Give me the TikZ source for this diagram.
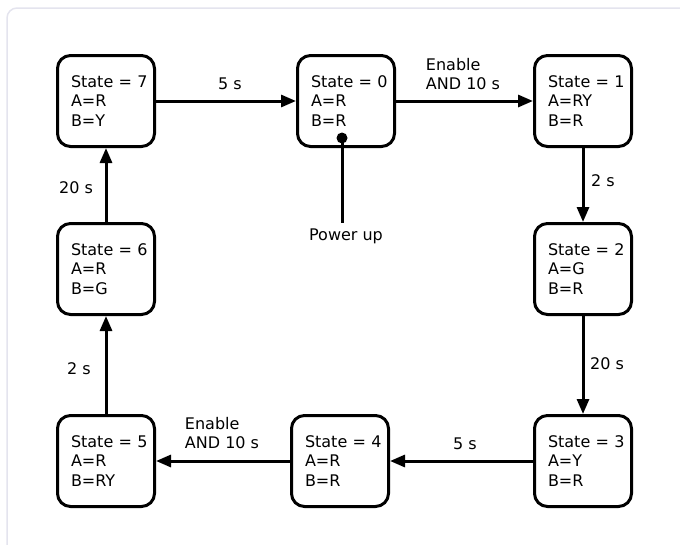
\documentclass[tikz,border=0pt]{standalone}
\usepackage{fontspec}
\setmainfont{DejaVu Sans}
\usetikzlibrary{arrows.meta}
\definecolor{framegray}{HTML}{E4E4EE}
\tikzset{
  state/.style={draw, line width=3pt, rounded corners=13pt,
    minimum width=97pt, minimum height=91pt,
    text width=70pt, inner xsep=13.5pt, align=left},
  arr/.style={line width=3pt, -{Triangle[length=15pt,width=12pt]}},
  lbl/.style={inner sep=0pt, align=left},
}
\begin{document}
\begin{tikzpicture}[x=1pt, y=-1pt, font=\fontsize{16}{19.5}\selectfont]
\useasboundingbox (0,0) rectangle (680,544);
% light outer frame
\begin{scope}
  \clip (0,0) rectangle (680,544);
  \draw[framegray, line width=1.5pt, rounded corners=10pt] (7,8) rectangle (720,580);
\end{scope}

% states
\node[state] (s7) at (106,101)   {\mbox{State = 7}\\A=R\\B=Y};
\node[state] (s0) at (346,101)   {\mbox{State = 0}\\A=R\\B=R};
\node[state] (s1) at (583,101)   {\mbox{State = 1}\\A=RY\\B=R};
\node[state] (s6) at (106,269)   {\mbox{State = 6}\\A=R\\B=G};
\node[state] (s2) at (583,269)   {\mbox{State = 2}\\A=G\\B=R};
\node[state] (s5) at (106,461)   {\mbox{State = 5}\\A=R\\B=RY};
\node[state] (s4) at (340,461)   {\mbox{State = 4}\\A=R\\B=R};
\node[state] (s3) at (583,461)   {\mbox{State = 3}\\A=Y\\B=R};

% transitions
\draw[arr] (s7) -- (s0);
\draw[arr] (s0) -- (s1);
\draw[arr] (s1) -- (s2);
\draw[arr] (s2) -- (s3);
\draw[arr] (s3) -- (s4);
\draw[arr] (s4) -- (s5);
\draw[arr] (s5) -- (s6);
\draw[arr] (s6) -- (s7);

% transition labels
\node[lbl] (l70) at (230,84)  {5 s};
\node[lbl] (l01) at (463,74)  {Enable\\AND 10 s};
\node[lbl] (l12) at (603,181) {2 s};
\node[lbl] (l23) at (607,364) {20 s};
\node[lbl] (l34) at (465,444) {5 s};
\node[lbl] (l45) at (222,433) {Enable\\AND 10 s};
\node[lbl] (l56) at (79,369)  {2 s};
\node[lbl] (l67) at (76,188)  {20 s};

% power-up entry
\coordinate (dot) at (342,138);
\coordinate (pu) at (342,223);
\draw[line width=3pt] (dot) -- (pu);
\fill (dot) circle (5.5pt);
\node[lbl, anchor=north] (pwr) at (346,229) {Power up};
\end{tikzpicture}
\end{document}
